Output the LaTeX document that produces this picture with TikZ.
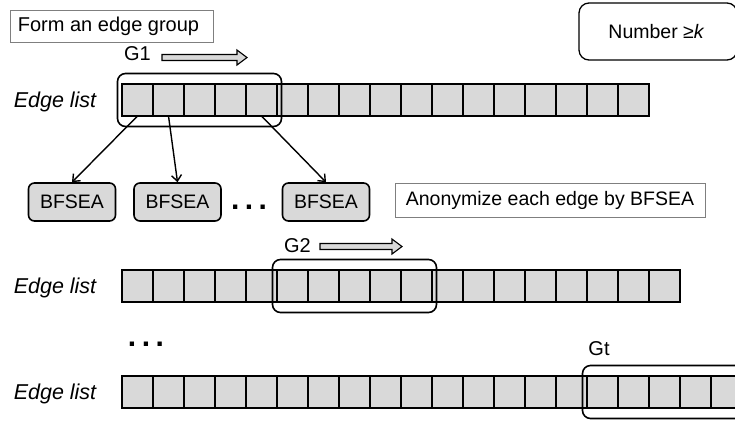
\documentclass[tikz,border=0pt]{standalone}
\usepackage{fontspec}
\setmainfont{Liberation Sans}
\usetikzlibrary{arrows.meta,fit}
\definecolor{cellgray}{HTML}{D9D9D9}
\definecolor{notegray}{HTML}{7F7F7F}
\begin{document}
\begin{tikzpicture}[x=1pt,y=-1pt,
  font=\fontsize{19.5}{23}\selectfont,
  cell/.style={draw=black,line width=1.6pt,fill=cellgray,minimum width=31pt,minimum height=32pt,inner sep=0pt,outer sep=0pt,anchor=north west},
  grp/.style={draw=black,line width=1.6pt,rounded corners=8pt,inner xsep=4.5pt,inner ysep=10.5pt},
  algbox/.style={draw=black,line width=1.6pt,fill=cellgray,rounded corners=6pt,minimum width=87pt,minimum height=38pt,inner sep=0pt},
  note/.style={draw=notegray,line width=0.9pt,fill=white,inner sep=0pt},
  conn/.style={line width=1.4pt,-{Straight Barb[length=6pt,width=10pt]}},
  lbl/.style={font=\fontsize{21.5}{24}\selectfont\itshape,anchor=base},
  glabel/.style={anchor=base,font=\fontsize{20}{24}\selectfont},
  darrow/.style={draw=black,line width=1.1pt,fill=cellgray},
  dots/.style={font=\fontsize{30}{32}\selectfont\bfseries}
]
\useasboundingbox (0,0) rectangle (735,421);
\clip (0,0) rectangle (735,421);

% notes
\node[note,minimum width=203pt,minimum height=32pt,font=\fontsize{20}{24}\selectfont] (form) at (111.5,26) {Form an edge group\hspace*{6pt}};
\node[draw=black,line width=1.3pt,rounded corners=10pt,minimum width=158pt,minimum height=57pt,inner sep=0pt] (num) at (658,31.5) {\hspace*{-3pt}Number ≥\textit{k}};
\node[note,minimum width=310pt,minimum height=34pt] (anon) at (550,200) {Anonymize each edge by BFSEA};

% row labels
\node[lbl] (l1) at (55,107.5) {Edge list};
\node[lbl] (l2) at (55,293.5) {Edge list};
\node[lbl] (l3) at (55,399.5) {Edge list};

% rows of cells
\foreach \i in {0,...,16} \node[cell] (a\i) at ({122+31*\i},84) {};
\foreach \i in {0,...,17} \node[cell] (b\i) at ({122+31*\i},270) {};
\foreach \i in {0,...,19} \node[cell] (c\i) at ({122+31*\i},376) {};

% groups
\node[grp,fit=(a0)(a4)] (g1) {};
\node[grp,fit=(b5)(b9)] (g2) {};
\node[grp,fit=(c15)(c19)] (gt) {};

% group labels
\node[glabel] (t1) at (137.5,60.5) {G1};
\node[glabel] (t2) at (297.5,252.5) {G2};
\node[glabel] (tt) at (599,355.5) {Gt};

% moving arrows
\draw[darrow] (162,54.5) -- (237,54.5) -- (237,50) -- (247,57.5) -- (237,65) -- (237,60.5) -- (162,60.5) -- cycle;
\draw[darrow] (320,243.5) -- (392,243.5) -- (392,239) -- (402,246.5) -- (392,254) -- (392,249.5) -- (320,249.5) -- cycle;

% BFSEA boxes
\node[algbox] (p1) at (72,202) {BFSEA};
\node[algbox] (p2) at (177.5,202) {BFSEA};
\node[algbox] (p3) at (326,202) {BFSEA};
\node[dots,anchor=base] (d1) at (249,209) {.\kern5.5pt.\kern5.5pt.};
\node[dots,anchor=base] (d2) at (146,346) {.\kern5.5pt.\kern5.5pt.};

% connectors
\draw[conn] (a0.south) -- (p1.north);
\draw[conn] (a1.south) -- (p2.north);
\draw[conn] (a4.south) -- (p3.north);
\end{tikzpicture}
\end{document}
